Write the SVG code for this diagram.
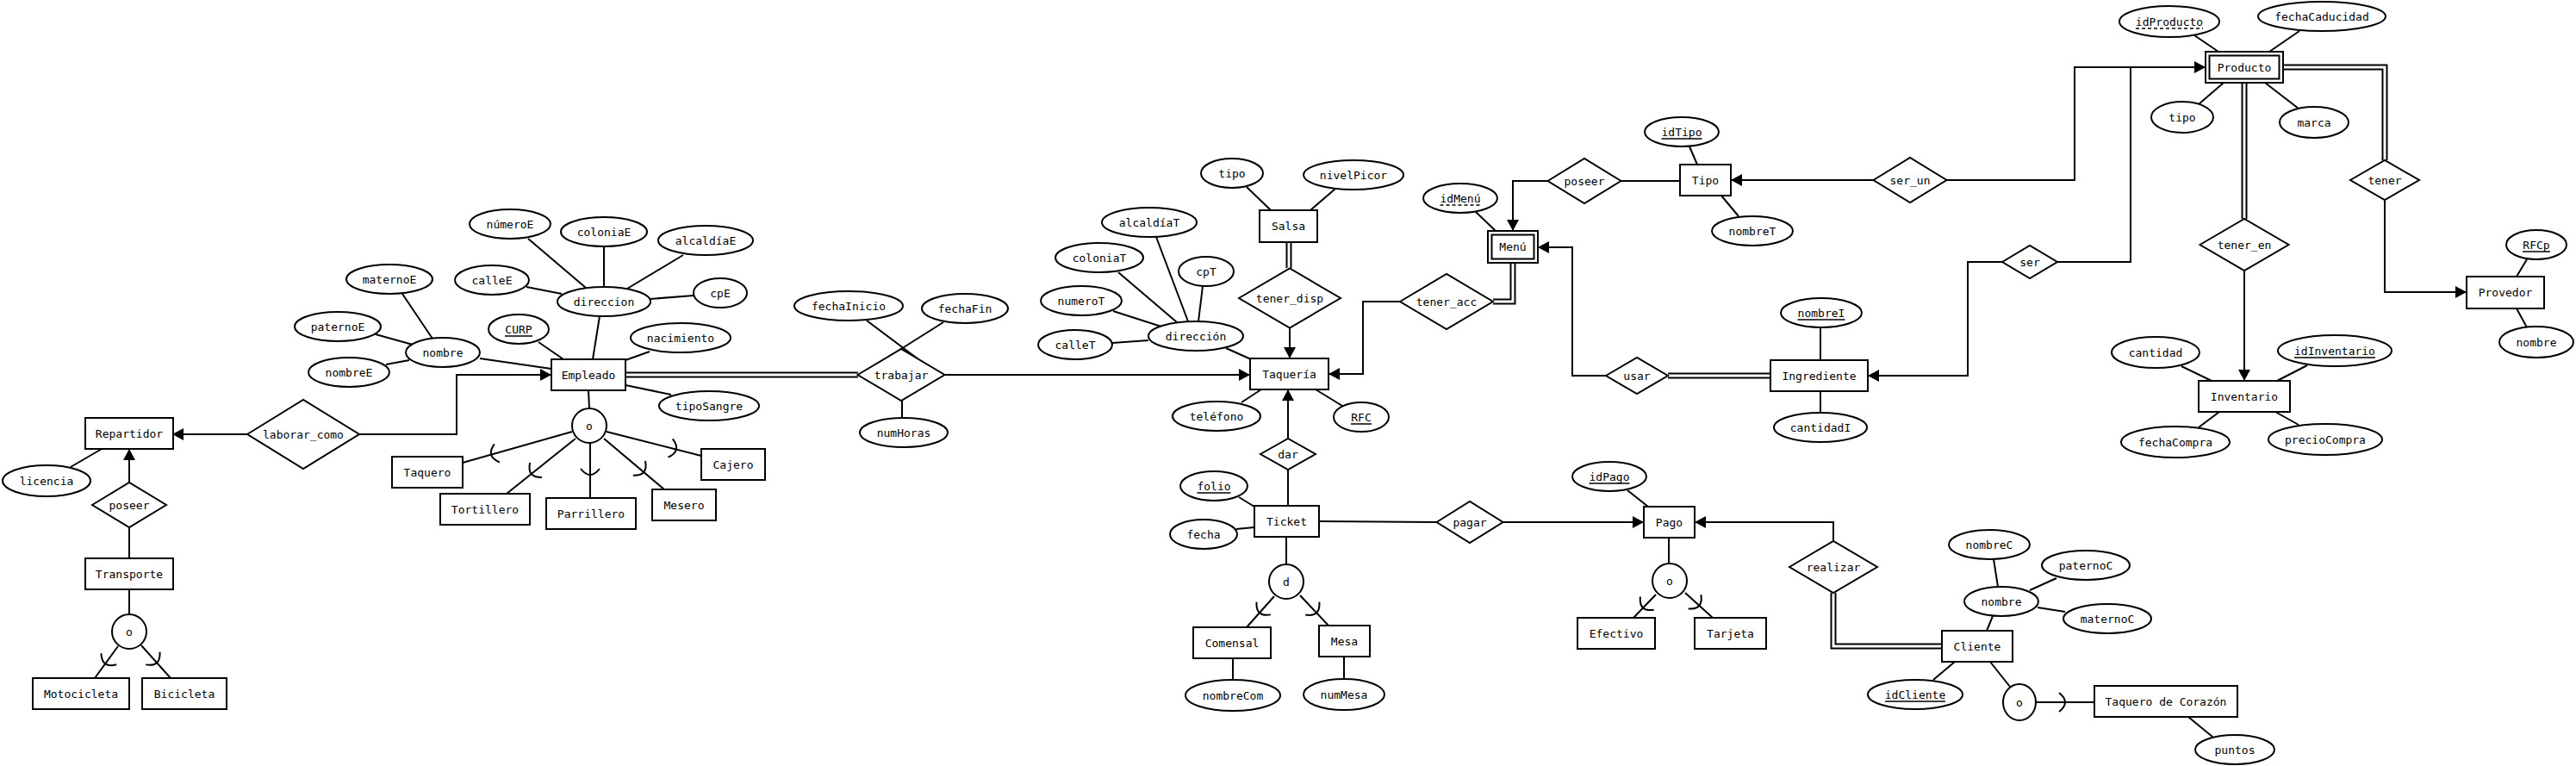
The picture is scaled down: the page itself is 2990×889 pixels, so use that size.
<svg xmlns="http://www.w3.org/2000/svg" xmlns:xlink="http://www.w3.org/1999/xlink" width="2990" height="889" viewBox="0 0 2990 889">
<style>
.bg{fill:#fff}
.e,.a,.r{fill:#fff;stroke:#000;stroke-width:2}
.t{font-family:"DejaVu Sans Mono","Liberation Mono",monospace;font-size:13px;fill:#000;text-anchor:middle;dominant-baseline:central}
.c{fill:none;stroke:#000;stroke-width:2}
.d1{fill:none;stroke:#000;stroke-width:7;stroke-linejoin:miter}
.d2{fill:none;stroke:#fff;stroke-width:3;stroke-linejoin:miter}
.u{stroke:#000;stroke-width:1.5}
.ud{stroke:#000;stroke-width:1.5;stroke-dasharray:4 3}
.s{fill:none;stroke:#000;stroke-width:2}
</style>
<defs>
<marker id="ah" markerWidth="14" markerHeight="14" refX="13" refY="7" orient="auto" markerUnits="userSpaceOnUse"><path d="M0,0 L13,7 L0,14 z" fill="#000"/></marker>
<path id="sub" d="M-11,-4 Q0,10 11,-4"/>
</defs>
<rect class="bg" x="0" y="0" width="2990" height="889"/>

<g id="connectors">
<!-- arrows -->
<path class="c" marker-end="url(#ah)" d="M287,504 L200,504"/>
<path class="c" marker-end="url(#ah)" d="M417,504 L530,504 L530,435 L640,435"/>
<path class="c" marker-end="url(#ah)" d="M150,560 L150,521"/>
<path class="c" marker-end="url(#ah)" d="M1096,435 L1451,435"/>
<path class="c" marker-end="url(#ah)" d="M1497,380 L1497,416"/>
<path class="c" marker-end="url(#ah)" d="M1625,350 L1582,350 L1582,434 L1542,434"/>
<path class="c" marker-end="url(#ah)" d="M1495,509 L1495,452"/>
<path class="c" marker-end="url(#ah)" d="M1797,210 L1756,210 L1756,268"/>
<path class="c" marker-end="url(#ah)" d="M2175,209 L2009,209"/>
<path class="c" marker-end="url(#ah)" d="M2260,209 L2408,209 L2408,78 L2560,78"/>
<path class="c" d="M2388,304 L2473,304 L2473,78"/>
<path class="c" marker-end="url(#ah)" d="M2324,304 L2284,304 L2284,436 L2168,436"/>
<path class="c" marker-end="url(#ah)" d="M1864,436 L1825,436 L1825,287 L1785,287"/>
<path class="c" marker-end="url(#ah)" d="M2605,314 L2605,442"/>
<path class="c" marker-end="url(#ah)" d="M2768,232 L2768,339 L2863,339"/>
<path class="c" marker-end="url(#ah)" d="M1745,606 L1908,606"/>
<path class="c" marker-end="url(#ah)" d="M2128,628 L2128,606 L1967,606"/>
<!-- plain relationship lines -->
<path class="c" d="M150,612 L150,648"/>
<path class="c" d="M150,684 L150,713"/>
<path class="c" d="M137,750 L110,787"/>
<path class="c" d="M164,749 L198,787"/>
<path class="c" d="M683,452 L684,474"/>
<path class="c" d="M664,501 L537,537"/>
<path class="c" d="M668,509 L588,573"/>
<path class="c" d="M685,514 L685,578"/>
<path class="c" d="M701,509 L771,568"/>
<path class="c" d="M704,501 L814,529"/>
<path class="c" d="M1882,210 L1950,210"/>
<path class="c" d="M1495,545 L1495,587"/>
<path class="c" d="M1531,605 L1668,606"/>
<path class="c" d="M1493,623 L1493,655"/>
<path class="c" d="M1479,692 L1447,728"/>
<path class="c" d="M1509,691 L1542,726"/>
<path class="c" d="M1937,624 L1937,654"/>
<path class="c" d="M1922,690 L1896,717"/>
<path class="c" d="M1956,688 L1988,717"/>
<path class="c" d="M2310,768 L2333,797"/>
<path class="c" d="M2363,815 L2431,815"/>
<!-- double lines -->
<path class="d1" d="M726,435 L996,435"/><path class="d2" d="M726,435 L996,435"/>
<path class="d1" d="M1496,281 L1496,311"/><path class="d2" d="M1496,281 L1496,311"/>
<path class="d1" d="M1733,350 L1756,350 L1756,305"/><path class="d2" d="M1733,350 L1756,350 L1756,305"/>
<path class="d1" d="M1936,436 L2055,436"/><path class="d2" d="M1936,436 L2055,436"/>
<path class="d1" d="M2605,96 L2605,254"/><path class="d2" d="M2605,96 L2605,254"/>
<path class="d1" d="M2650,78 L2768,78 L2768,186"/><path class="d2" d="M2650,78 L2768,78 L2768,186"/>
<path class="d1" d="M2128,688 L2128,750 L2254,750"/><path class="d2" d="M2128,688 L2128,750 L2254,750"/>
<!-- attribute lines -->
<path class="c" d="M82,542 L118,521"/>
<path class="c" d="M557,416 L640,428"/>
<path class="c" d="M467,341 L502,393"/>
<path class="c" d="M436,388 L479,400"/>
<path class="c" d="M448,423 L475,418"/>
<path class="c" d="M625,397 L654,417"/>
<path class="c" d="M696,367 L688,417"/>
<path class="c" d="M611,333 L652,341"/>
<path class="c" d="M613,277 L680,334"/>
<path class="c" d="M701,286 L701,333"/>
<path class="c" d="M793,296 L728,335"/>
<path class="c" d="M805,343 L754,347"/>
<path class="c" d="M754,408 L726,418"/>
<path class="c" d="M779,458 L726,447"/>
<path class="c" d="M1006,372 L1066,417"/>
<path class="c" d="M1095,374 L1030,415"/>
<path class="c" d="M1047,465 L1047,485"/>
<path class="c" d="M1423,404 L1452,417"/>
<path class="c" d="M1291,398 L1333,395"/>
<path class="c" d="M1292,361 L1348,379"/>
<path class="c" d="M1298,316 L1366,374"/>
<path class="c" d="M1342,275 L1379,373"/>
<path class="c" d="M1396,332 L1391,373"/>
<path class="c" d="M1441,467 L1464,452"/>
<path class="c" d="M1558,471 L1527,452"/>
<path class="c" d="M1447,217 L1475,244"/>
<path class="c" d="M1550,219 L1521,244"/>
<path class="c" d="M1438,577 L1456,588"/>
<path class="c" d="M1435,614 L1456,612"/>
<path class="c" d="M1431,764 L1431,789"/>
<path class="c" d="M1560,762 L1560,788"/>
<path class="c" d="M1889,569 L1913,588"/>
<path class="c" d="M2313,715 L2306,732"/>
<path class="c" d="M2314,649 L2319,681"/>
<path class="c" d="M2387,671 L2356,685"/>
<path class="c" d="M2397,710 L2365,705"/>
<path class="c" d="M2244,789 L2269,768"/>
<path class="c" d="M2540,832 L2568,855"/>
<path class="c" d="M1713,246 L1736,268"/>
<path class="c" d="M1961,170 L1970,191"/>
<path class="c" d="M1998,227 L2018,251"/>
<path class="c" d="M2113,380 L2113,418"/>
<path class="c" d="M2113,454 L2113,479"/>
<path class="c" d="M2547,41 L2575,60"/>
<path class="c" d="M2669,36 L2634,60"/>
<path class="c" d="M2581,96 L2552,121"/>
<path class="c" d="M2629,96 L2668,126"/>
<path class="c" d="M2933,301 L2921,321"/>
<path class="c" d="M2921,358 L2933,380"/>
<path class="c" d="M2532,425 L2567,442"/>
<path class="c" d="M2678,424 L2643,442"/>
<path class="c" d="M2552,496 L2576,478"/>
<path class="c" d="M2668,493 L2641,478"/>
<!-- subset symbols -->
<use xlink:href="#sub" class="s" transform="translate(124,768) rotate(36)"/>
<use xlink:href="#sub" class="s" transform="translate(180,767) rotate(-42)"/>
<use xlink:href="#sub" class="s" transform="translate(573,527) rotate(74)"/>
<use xlink:href="#sub" class="s" transform="translate(619,548) rotate(51)"/>
<use xlink:href="#sub" class="s" transform="translate(685,548) rotate(0)"/>
<use xlink:href="#sub" class="s" transform="translate(745,546) rotate(-50)"/>
<use xlink:href="#sub" class="s" transform="translate(782,521) rotate(-76)"/>
<use xlink:href="#sub" class="s" transform="translate(1464,709) rotate(42)"/>
<use xlink:href="#sub" class="s" transform="translate(1526,709) rotate(-43)"/>
<use xlink:href="#sub" class="s" transform="translate(1909,703) rotate(44)"/>
<use xlink:href="#sub" class="s" transform="translate(1970,701) rotate(-48)"/>
<use xlink:href="#sub" class="s" transform="translate(2394,815) rotate(-90)"/>
</g>

<!-- Entities -->
<g id="Repartidor"><rect class="e" x="99" y="485" width="102" height="36"/><text class="t" x="150" y="503">Repartidor</text></g>
<g id="Transporte"><rect class="e" x="99" y="648" width="102" height="36"/><text class="t" x="150" y="666">Transporte</text></g>
<g id="Motocicleta"><rect class="e" x="38" y="787" width="112" height="36"/><text class="t" x="94" y="805">Motocicleta</text></g>
<g id="Bicicleta"><rect class="e" x="165" y="787" width="98" height="36"/><text class="t" x="214" y="805">Bicicleta</text></g>
<g id="Empleado"><rect class="e" x="640" y="417" width="86" height="36"/><text class="t" x="683" y="435">Empleado</text></g>
<g id="Taquero"><rect class="e" x="455" y="530" width="82" height="36"/><text class="t" x="496" y="548">Taquero</text></g>
<g id="Tortillero"><rect class="e" x="511" y="573" width="104" height="36"/><text class="t" x="563" y="591">Tortillero</text></g>
<g id="Parrillero"><rect class="e" x="634" y="578" width="104" height="36"/><text class="t" x="686" y="596">Parrillero</text></g>
<g id="Mesero"><rect class="e" x="757" y="568" width="74" height="36"/><text class="t" x="794" y="586">Mesero</text></g>
<g id="Cajero"><rect class="e" x="814" y="521" width="74" height="36"/><text class="t" x="851" y="539">Cajero</text></g>
<g id="Taqueria"><rect class="e" x="1451" y="416" width="91" height="36"/><text class="t" x="1496.5" y="434">Taquería</text></g>
<g id="Salsa"><rect class="e" x="1462" y="244" width="67" height="37"/><text class="t" x="1495.5" y="262.5">Salsa</text></g>
<g id="Ticket"><rect class="e" x="1456" y="587" width="75" height="36"/><text class="t" x="1493.5" y="605">Ticket</text></g>
<g id="Comensal"><rect class="e" x="1385" y="728" width="90" height="36"/><text class="t" x="1430" y="746">Comensal</text></g>
<g id="Mesa"><rect class="e" x="1531" y="726" width="59" height="36"/><text class="t" x="1560.5" y="744">Mesa</text></g>
<g id="Pago"><rect class="e" x="1908" y="588" width="59" height="36"/><text class="t" x="1937.5" y="606">Pago</text></g>
<g id="Efectivo"><rect class="e" x="1831" y="717" width="90" height="36"/><text class="t" x="1876" y="735">Efectivo</text></g>
<g id="Tarjeta"><rect class="e" x="1967" y="717" width="83" height="36"/><text class="t" x="2008.5" y="735">Tarjeta</text></g>
<g id="Cliente"><rect class="e" x="2254" y="732" width="82" height="36"/><text class="t" x="2295" y="750">Cliente</text></g>
<g id="TaqueroCorazon"><rect class="e" x="2431" y="796" width="166" height="36"/><text class="t" x="2514" y="814">Taquero de Corazón</text></g>
<g id="Menu"><rect class="e" x="1727" y="268" width="58" height="37"/><rect class="e" x="1731.5" y="272.5" width="49" height="28"/><text class="t" x="1756" y="286.5">Menú</text></g>
<g id="Tipo"><rect class="e" x="1950" y="191" width="59" height="36"/><text class="t" x="1979.5" y="209">Tipo</text></g>
<g id="Ingrediente"><rect class="e" x="2055" y="418" width="113" height="36"/><text class="t" x="2111.5" y="436">Ingrediente</text></g>
<g id="Producto"><rect class="e" x="2560" y="60" width="90" height="36"/><rect class="e" x="2564.5" y="64.5" width="81" height="27"/><text class="t" x="2605" y="78">Producto</text></g>
<g id="Inventario"><rect class="e" x="2552" y="442" width="106" height="36"/><text class="t" x="2605" y="460">Inventario</text></g>
<g id="Provedor"><rect class="e" x="2863" y="321" width="90" height="37"/><text class="t" x="2908" y="339.5">Provedor</text></g>

<!-- Relationships -->
<g id="laborar_como"><polygon class="r" points="287,504 352,464 417,504 352,544"/><text class="t" x="352" y="504">laborar_como</text></g>
<g id="poseer1"><polygon class="r" points="107,586 150,560 193,586 150,612"/><text class="t" x="150" y="586">poseer</text></g>
<g id="trabajar"><polygon class="r" points="995.5,435 1046,405 1096.5,435 1046,465"/><text class="t" x="1046" y="435">trabajar</text></g>
<g id="tener_disp"><polygon class="r" points="1438,346 1497,311.5 1556,346 1497,380.5"/><text class="t" x="1497" y="346">tener_disp</text></g>
<g id="tener_acc"><polygon class="r" points="1625,350 1679,318 1733,350 1679,382"/><text class="t" x="1679" y="350">tener_acc</text></g>
<g id="dar"><polygon class="r" points="1463,527 1495,509 1527,527 1495,545"/><text class="t" x="1495" y="527">dar</text></g>
<g id="pagar"><polygon class="r" points="1667.5,606 1706,582 1744.5,606 1706,630"/><text class="t" x="1706" y="606">pagar</text></g>
<g id="realizar"><polygon class="r" points="2077,658 2128,628 2179,658 2128,688"/><text class="t" x="2128" y="658">realizar</text></g>
<g id="poseer2"><polygon class="r" points="1796.5,210 1839,184 1881.5,210 1839,236"/><text class="t" x="1839" y="210">poseer</text></g>
<g id="ser_un"><polygon class="r" points="2174.5,209 2217,183 2259.5,209 2217,235"/><text class="t" x="2217" y="209">ser_un</text></g>
<g id="ser"><polygon class="r" points="2324,304 2356,285 2388,304 2356,323"/><text class="t" x="2356" y="304">ser</text></g>
<g id="usar"><polygon class="r" points="1864,436 1900,415 1936,436 1900,457"/><text class="t" x="1900" y="436">usar</text></g>
<g id="tener_en"><polygon class="r" points="2553.5,284 2605,254 2656.5,284 2605,314"/><text class="t" x="2605" y="284">tener_en</text></g>
<g id="tener"><polygon class="r" points="2728,209 2768,186 2808,209 2768,232"/><text class="t" x="2768" y="209">tener</text></g>

<!-- Specialization circles -->
<g id="o_transporte"><circle class="a" cx="150" cy="733" r="20"/><text class="t" x="150" y="733">o</text></g>
<g id="o_empleado"><circle class="a" cx="684" cy="494" r="20"/><text class="t" x="684" y="494">o</text></g>
<g id="d_ticket"><circle class="a" cx="1493" cy="675" r="20"/><text class="t" x="1493" y="675">d</text></g>
<g id="o_pago"><circle class="a" cx="1938" cy="674" r="20"/><text class="t" x="1938" y="674">o</text></g>
<g id="o_cliente"><ellipse class="a" cx="2344" cy="815" rx="19" ry="21"/><text class="t" x="2344" y="815">o</text></g>

<!-- Attributes -->
<g id="licencia"><ellipse class="a" cx="54" cy="558" rx="51" ry="18"/><text class="t" x="54" y="558">licencia</text></g>
<g id="nombreEmp"><ellipse class="a" cx="514" cy="409" rx="43" ry="17"/><text class="t" x="514" y="409">nombre</text></g>
<g id="maternoE"><ellipse class="a" cx="452" cy="324" rx="50" ry="17"/><text class="t" x="452" y="324">maternoE</text></g>
<g id="paternoE"><ellipse class="a" cx="392" cy="379" rx="50" ry="17"/><text class="t" x="392" y="379">paternoE</text></g>
<g id="nombreE"><ellipse class="a" cx="405" cy="432" rx="47" ry="17"/><text class="t" x="405" y="432">nombreE</text></g>
<g id="CURP"><ellipse class="a" cx="602" cy="382" rx="35" ry="17"/><text class="t" x="602" y="382">CURP</text><line class="u" x1="586" y1="390" x2="618" y2="390"/></g>
<g id="direccionE"><ellipse class="a" cx="701" cy="350" rx="54" ry="17"/><text class="t" x="701" y="350">direccion</text></g>
<g id="calleE"><ellipse class="a" cx="571" cy="325" rx="43" ry="17"/><text class="t" x="571" y="325">calleE</text></g>
<g id="numeroE"><ellipse class="a" cx="592" cy="260" rx="47" ry="17"/><text class="t" x="592" y="260">númeroE</text></g>
<g id="coloniaE"><ellipse class="a" cx="701" cy="269" rx="50" ry="17"/><text class="t" x="701" y="269">coloniaE</text></g>
<g id="alcaldiaE"><ellipse class="a" cx="819" cy="279" rx="55" ry="17"/><text class="t" x="819" y="279">alcaldíaE</text></g>
<g id="cpE"><ellipse class="a" cx="836" cy="340" rx="31" ry="17"/><text class="t" x="836" y="340">cpE</text></g>
<g id="nacimiento"><ellipse class="a" cx="790" cy="392" rx="58" ry="17"/><text class="t" x="790" y="392">nacimiento</text></g>
<g id="tipoSangre"><ellipse class="a" cx="823" cy="471" rx="58" ry="17"/><text class="t" x="823" y="471">tipoSangre</text></g>
<g id="fechaInicio"><ellipse class="a" cx="985" cy="355" rx="63" ry="17"/><text class="t" x="985" y="355">fechaInicio</text></g>
<g id="fechaFin"><ellipse class="a" cx="1120" cy="358" rx="50" ry="17"/><text class="t" x="1120" y="358">fechaFin</text></g>
<g id="numHoras"><ellipse class="a" cx="1049" cy="502" rx="51" ry="17"/><text class="t" x="1049" y="502">numHoras</text></g>
<g id="direccionT"><ellipse class="a" cx="1388" cy="390" rx="55" ry="17"/><text class="t" x="1388" y="390">dirección</text></g>
<g id="calleT"><ellipse class="a" cx="1248" cy="400" rx="43" ry="17"/><text class="t" x="1248" y="400">calleT</text></g>
<g id="numeroT"><ellipse class="a" cx="1255" cy="349" rx="47" ry="17"/><text class="t" x="1255" y="349">numeroT</text></g>
<g id="coloniaT"><ellipse class="a" cx="1276" cy="299" rx="51" ry="17"/><text class="t" x="1276" y="299">coloniaT</text></g>
<g id="alcaldiaT"><ellipse class="a" cx="1334" cy="258" rx="55" ry="17"/><text class="t" x="1334" y="258">alcaldíaT</text></g>
<g id="cpT"><ellipse class="a" cx="1400" cy="315" rx="32" ry="17"/><text class="t" x="1400" y="315">cpT</text></g>
<g id="telefono"><ellipse class="a" cx="1412" cy="483" rx="51" ry="17"/><text class="t" x="1412" y="483">teléfono</text></g>
<g id="RFC"><ellipse class="a" cx="1580" cy="484" rx="32" ry="17"/><text class="t" x="1580" y="484">RFC</text><line class="u" x1="1568" y1="492" x2="1592" y2="492"/></g>
<g id="tipoSalsa"><ellipse class="a" cx="1430" cy="201" rx="36" ry="17"/><text class="t" x="1430" y="201">tipo</text></g>
<g id="nivelPicor"><ellipse class="a" cx="1571" cy="203" rx="58" ry="17"/><text class="t" x="1571" y="203">nivelPicor</text></g>
<g id="folio"><ellipse class="a" cx="1409" cy="564" rx="39" ry="17"/><text class="t" x="1409" y="564">folio</text><line class="u" x1="1389.5" y1="572" x2="1428.5" y2="572"/></g>
<g id="fecha"><ellipse class="a" cx="1397" cy="620" rx="39" ry="17"/><text class="t" x="1397" y="620">fecha</text></g>
<g id="nombreCom"><ellipse class="a" cx="1431" cy="807" rx="55" ry="18"/><text class="t" x="1431" y="807">nombreCom</text></g>
<g id="numMesa"><ellipse class="a" cx="1560" cy="806" rx="47" ry="18"/><text class="t" x="1560" y="806">numMesa</text></g>
<g id="idPago"><ellipse class="a" cx="1868" cy="553" rx="43" ry="17"/><text class="t" x="1868" y="553">idPago</text><line class="u" x1="1844.5" y1="561" x2="1891.5" y2="561"/></g>
<g id="idMenu"><ellipse class="a" cx="1695" cy="230" rx="43" ry="17"/><text class="t" x="1695" y="230">idMenú</text><line class="ud" x1="1671.5" y1="238" x2="1718.5" y2="238"/></g>
<g id="idTipo"><ellipse class="a" cx="1952" cy="153" rx="43" ry="17"/><text class="t" x="1952" y="153">idTipo</text><line class="u" x1="1928.5" y1="161" x2="1975.5" y2="161"/></g>
<g id="nombreT"><ellipse class="a" cx="2034" cy="268" rx="47" ry="17"/><text class="t" x="2034" y="268">nombreT</text></g>
<g id="nombreI"><ellipse class="a" cx="2114" cy="363" rx="47" ry="17"/><text class="t" x="2114" y="363">nombreI</text><line class="u" x1="2086.5" y1="371" x2="2141.5" y2="371"/></g>
<g id="cantidadI"><ellipse class="a" cx="2113" cy="496" rx="54" ry="17"/><text class="t" x="2113" y="496">cantidadI</text></g>
<g id="nombreCli"><ellipse class="a" cx="2323" cy="698" rx="43" ry="17"/><text class="t" x="2323" y="698">nombre</text></g>
<g id="nombreC"><ellipse class="a" cx="2309" cy="632" rx="47" ry="17"/><text class="t" x="2309" y="632">nombreC</text></g>
<g id="paternoC"><ellipse class="a" cx="2421" cy="656" rx="51" ry="17"/><text class="t" x="2421" y="656">paternoC</text></g>
<g id="maternoC"><ellipse class="a" cx="2446" cy="718" rx="51" ry="17"/><text class="t" x="2446" y="718">maternoC</text></g>
<g id="idCliente"><ellipse class="a" cx="2223" cy="806" rx="55" ry="17"/><text class="t" x="2223" y="806">idCliente</text><line class="u" x1="2188" y1="814" x2="2258" y2="814"/></g>
<g id="puntos"><ellipse class="a" cx="2594" cy="870" rx="46" ry="17"/><text class="t" x="2594" y="870">puntos</text></g>
<g id="idProducto"><ellipse class="a" cx="2518" cy="25" rx="58" ry="18"/><text class="t" x="2518" y="25">idProducto</text><line class="ud" x1="2479" y1="33" x2="2557" y2="33"/></g>
<g id="fechaCaducidad"><ellipse class="a" cx="2695" cy="19" rx="74" ry="17"/><text class="t" x="2695" y="19">fechaCaducidad</text></g>
<g id="tipoProd"><ellipse class="a" cx="2533" cy="136" rx="36" ry="18"/><text class="t" x="2533" y="136">tipo</text></g>
<g id="marca"><ellipse class="a" cx="2686" cy="142" rx="40" ry="18"/><text class="t" x="2686" y="142">marca</text></g>
<g id="RFCp"><ellipse class="a" cx="2944" cy="284" rx="35" ry="17"/><text class="t" x="2944" y="284">RFCp</text><line class="u" x1="2928" y1="292" x2="2960" y2="292"/></g>
<g id="nombreProv"><ellipse class="a" cx="2944" cy="397" rx="43" ry="18"/><text class="t" x="2944" y="397">nombre</text></g>
<g id="cantidad"><ellipse class="a" cx="2502" cy="409" rx="51" ry="18"/><text class="t" x="2502" y="409">cantidad</text></g>
<g id="idInventario"><ellipse class="a" cx="2710" cy="407" rx="66" ry="18"/><text class="t" x="2710" y="407">idInventario</text><line class="u" x1="2663" y1="415" x2="2757" y2="415"/></g>
<g id="fechaCompra"><ellipse class="a" cx="2525" cy="513" rx="63" ry="18"/><text class="t" x="2525" y="513">fechaCompra</text></g>
<g id="precioCompra"><ellipse class="a" cx="2699" cy="510" rx="66" ry="18"/><text class="t" x="2699" y="510">precioCompra</text></g>
</svg>
